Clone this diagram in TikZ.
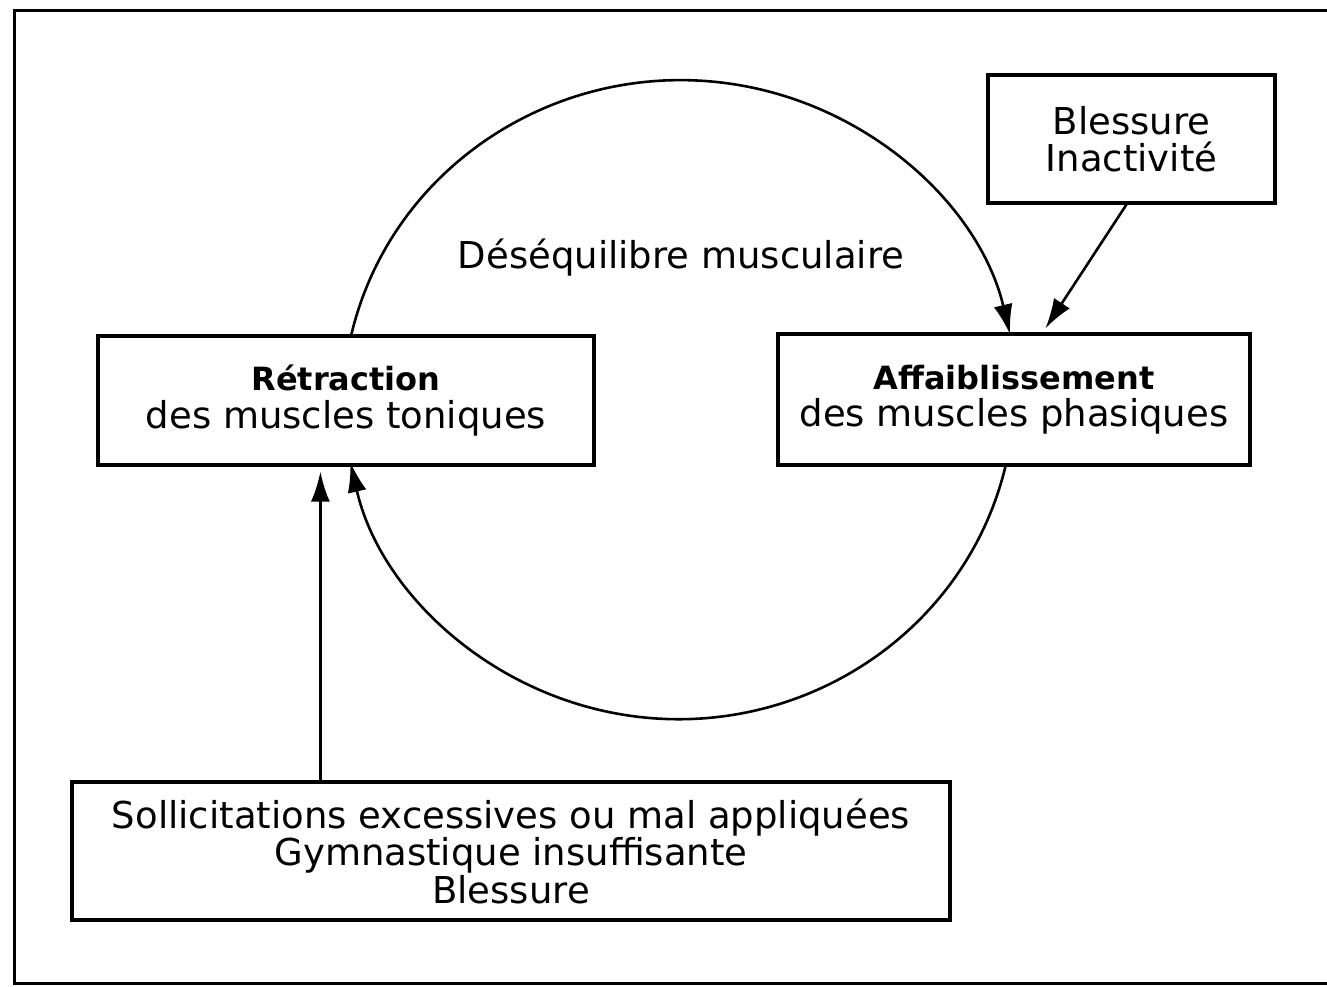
\documentclass[tikz,border=0pt]{standalone}
\usepackage{fontspec}
\setmainfont{DejaVu Sans}
\usetikzlibrary{arrows.meta,calc}
\newcommand{\boxtitle}[1]{{\fontsize{32}{37}\selectfont\bfseries #1}}
\tikzset{
  boxnode/.style={draw, line width=3.2pt, align=center, inner sep=0pt,
    font=\fontsize{37}{37.5}\selectfont},
  conn/.style={line width=2.6pt, -{Latex[length=30pt,width=19pt]}},
  plain/.style={font=\fontsize{37}{37.5}\selectfont}
}
\begin{document}
\begin{tikzpicture}[x=1pt,y=-1pt]
  \useasboundingbox (0,0) rectangle (1327,986);
  % outer frame (its right edge runs off the page)
  \draw[line width=3pt] (1327,10) -- (14,10) -- (14,983) -- (1327,983);

  \node[boxnode, minimum width=287pt, minimum height=128pt] (bless) at (1131.5,139)
    {Blessure\\Inactivité};
  \node[boxnode, minimum width=496pt, minimum height=129pt] (retr) at (346,400.5)
    {\boxtitle{Rétraction}\\des muscles toniques};
  \node[boxnode, minimum width=472pt, minimum height=131pt] (affa) at (1014,399.5)
    {\boxtitle{Affaiblissement}\\des muscles phasiques};
  \node[boxnode, minimum width=878pt, minimum height=138pt] (soll) at (511,851)
    {Sollicitations excessives ou mal appliquées\\Gymnastique insuffisante\\Blessure};
  \node[plain] (deseq) at (681,258) {Déséquilibre musculaire};

  % points on the boxes where the connectors meet them
  \coordinate (retrtop) at ($(retr.north west)+(255,0)$);
  \coordinate (affabot) at ($(affa.south west)+(229,0)$);
  \coordinate (retrbotL) at ($(retr.south west)+(224,5)$);
  \coordinate (affatip) at ($(affa.north west)+(269,-4)$);
  \coordinate (blessbot) at ($(bless.south west)+(140,0)$);

  % the loop of muscular imbalance
  \draw[conn] (retrtop) arc[start angle=193, end angle=347, x radius=338, y radius=328];
  \draw[conn] (affabot) arc[start angle=13.3, end angle=167.5, x radius=336, y radius=328];

  % causes
  \draw[conn] (soll.north -| retrbotL) -- (retrbotL);
  \draw[conn] (blessbot) -- (affatip);
\end{tikzpicture}
\end{document}
